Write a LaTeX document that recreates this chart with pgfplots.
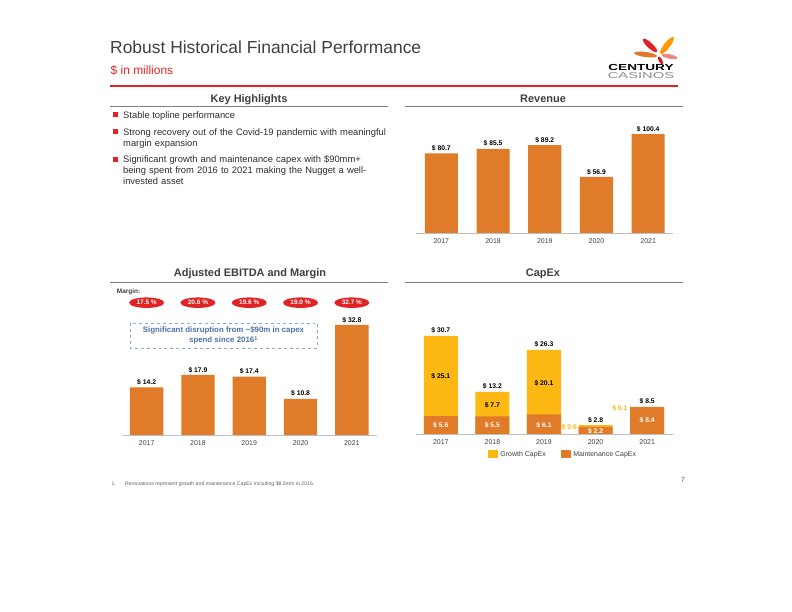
\documentclass[border=0pt]{standalone}
\usepackage{fontspec}
\setmainfont{Liberation Sans}
\usepackage{graphicx}
\usepackage{pgfplots}
\pgfplotsset{compat=1.18}
\usetikzlibrary{shapes.geometric}
\definecolor{barorange}{RGB}{224,123,41}
\definecolor{baryellow}{RGB}{253,184,19}
\definecolor{redc}{RGB}{226,35,38}
\definecolor{titlegray}{RGB}{64,64,64}
\definecolor{boxblue}{RGB}{79,113,168}
\definecolor{boxline}{RGB}{143,170,210}
\definecolor{axgray}{RGB}{191,191,191}
\definecolor{ruleg}{RGB}{127,127,127}
\newcommand{\fs}[2]{\fontsize{#1}{#2}\selectfont}
\newcommand{\vlab}{\$ \pgfmathprintnumber[fixed,fixed zerofill,precision=1]{\pgfplotspointmeta}}
\pgfplotsset{
  slidebar/.style={
    scale only axis, ymin=0, axis y line=none, axis x line*=bottom,
    x axis line style={axgray, line width=0.8pt},
    xtick={0,1,2,3,4}, xticklabels={2017,2018,2019,2020,2021},
    major tick length=0pt,
    xticklabel style={font=\fs{7}{8}, text=titlegray, yshift=-2.5bp},
    /pgf/number format/assume math mode=true,
    clip=false,
    anchor=south west,
  },
  barlab/.style={every node near coord/.append style={font=\bfseries\fs{6.8}{8}, text=black, inner sep=2.2bp}},
}
\begin{document}
\begin{tikzpicture}[x=1bp,y=1bp]
\useasboundingbox (0,0) rectangle (792,612);
\fill[white] (0,0) rectangle (792,612);
% ---- title
\node[anchor=base west, inner sep=0pt, text=titlegray, font=\fs{17.5}{20}] at (110,558.7) {Robust Historical Financial Performance};
\node[anchor=base west, inner sep=0pt, text=redc, font=\fs{12}{14}] at (110.5,537) {\$ in millions};
\draw[redc, line width=1.5pt] (110,526) -- (678,526);
% ---- logo
\fill[redc] (650,566.5) ellipse [x radius=9.5, y radius=2.8, rotate=-43];
\fill[orange!80!yellow] (667,566.5) ellipse [x radius=10.5, y radius=3, rotate=52];
\fill[barorange] (645.5,557.5) ellipse [x radius=11.5, y radius=2.6, rotate=-8];
\fill[redc!55!white] (669.5,555.5) ellipse [x radius=8, y radius=2.2, rotate=-12];
\fill[redc!90!black] (660.5,551.5) ellipse [x radius=4.3, y radius=1.8, rotate=-60];
\node[anchor=base, inner sep=0pt, font=\bfseries\fs{8.8}{10}] at (641,541.8) {\scalebox{1.55}[1]{CENTURY}};
\node[anchor=base, inner sep=0pt, text=black!45, font=\fs{8.6}{10}] at (641,533.4) {\scalebox{1.72}[1]{CASINOS}};
% ---- headers
\node[anchor=base, inner sep=0pt, text=titlegray, font=\bfseries\fs{11}{13}] at (249,509.3) {Key Highlights};
\draw[ruleg, line width=0.8pt] (110,505.3) -- (388,505.3);
\node[anchor=base, inner sep=0pt, text=titlegray, font=\bfseries\fs{11}{13}] at (543,509.3) {Revenue};
\draw[ruleg, line width=0.8pt] (405,505.3) -- (683,505.3);
\node[anchor=base, inner sep=0pt, text=titlegray, font=\bfseries\fs{11}{13}] at (250,335.3) {Adjusted EBITDA and Margin};
\draw[ruleg, line width=0.8pt] (110,329.3) -- (388,329.3);
\node[anchor=base, inner sep=0pt, text=titlegray, font=\bfseries\fs{11}{13}] at (543,335.3) {CapEx};
\draw[ruleg, line width=0.8pt] (405,329.3) -- (683,329.3);
% ---- bullets
\fill[redc] (112.5,494.5) rectangle (117.5,499.5);
\fill[redc] (112.5,478) rectangle (117.5,483);
\fill[redc] (112.5,449.5) rectangle (117.5,454.5);
\node[anchor=base west, inner sep=0pt, text=titlegray!70!black, font=\fs{9.4}{10.8}] at (123,493) {Stable topline performance};
\node[anchor=base west, inner sep=0pt, text width=266bp, align=left, text=titlegray!70!black, font=\fs{9.4}{10.8}] at (123,476.5) {Strong recovery out of the Covid-19 pandemic with meaningful\\margin expansion};
\node[anchor=base west, inner sep=0pt, text width=266bp, align=left, text=titlegray!70!black, font=\fs{9.4}{10.8}] at (123,449) {Significant growth and maintenance capex with \$90mm+\\being spent from 2016 to 2021 making the Nugget a well-\\invested asset};
% ---- revenue
\begin{axis}[slidebar, at={(416bp,379bp)}, width=257bp, height=115bp, xmin=-0.49, xmax=4.48, ymax=116.75]
\addplot[ybar, bar width=0.64, bar shift=0pt, fill=barorange, draw=none, nodes near coords=\vlab, barlab]
  coordinates {(0,80.7) (1,85.5) (2,89.2) (3,56.9) (4,100.4)};
\end{axis}
% ---- EBITDA
\node[anchor=west, inner sep=0pt, font=\bfseries\fs{6.5}{7}, text=titlegray] at (116.7,320.3) {Margin:};
\draw[boxline, dashed, line width=0.8pt] (130,289) rectangle (317,263.7);
\node[align=center, inner sep=0pt, text=boxblue, font=\bfseries\fs{7.9}{10}] at (223.5,276.2) {Significant disruption from \textasciitilde\$90m in capex\\spend since 2016\textsuperscript{1}};
\begin{axis}[slidebar, at={(122bp,177bp)}, width=255bp, height=120bp, xmin=-0.48, xmax=4.49, ymax=35.78]
\addplot[ybar, bar width=0.65, bar shift=0pt, fill=barorange, draw=none, nodes near coords=\vlab, barlab]
  coordinates {(0,14.2) (1,17.9) (2,17.4) (3,10.8) (4,32.8)};
\addplot[draw=none, mark=none, point meta=explicit symbolic, nodes near coords,
  every node near coord/.style={ellipse, fill=redc, text=white, font=\bfseries\fs{6.5}{7}, minimum width=35bp, minimum height=10.5bp, inner sep=0pt, anchor=center}]
  coordinates {(0,39.45)[17.5 \%] (1,39.45)[20.6 \%] (2,39.45)[19.6 \%] (3,39.45)[19.0 \%] (4,39.45)[32.7 \%]};
\end{axis}
% ---- CapEx
\begin{axis}[slidebar, at={(416bp,178bp)}, width=257bp, height=115bp, xmin=-0.48, xmax=4.5, ymax=35.94,
  legend columns=2,
  legend style={draw=none, fill=none, at={(0.572,-0.177)}, anchor=center, font=\fs{7}{8}, text=titlegray,
    /tikz/every even column/.append style={column sep=13bp}},
  legend image code/.code={\fill[#1] (0bp,-4bp) rectangle (10.5bp,4bp);}]
\addplot[ybar, bar width=0.66, bar shift=0pt, fill=baryellow, draw=none, nodes near coords=\vlab, barlab]
  coordinates {(0,30.7) (1,13.2) (2,26.3) (3,2.8) (4,8.5)};
\addlegendentry{Growth CapEx}
\addplot[ybar, bar width=0.66, bar shift=0pt, fill=barorange, draw=none]
  coordinates {(0,5.6) (1,5.5) (2,6.1) (3,2.2) (4,8.4)};
\addlegendentry{Maintenance CapEx}
\addplot[draw=none, mark=none, point meta=explicit, nodes near coords=\vlab, forget plot,
  every node near coord/.style={anchor=center, font=\bfseries\fs{6.8}{8}, text=white}]
  coordinates {(0,2.6)[5.6] (1,2.6)[5.5] (2,2.8)[6.1] (3,0.9)[2.2] (4,4.2)[8.4]};
\addplot[draw=none, mark=none, point meta=explicit, nodes near coords=\vlab, forget plot,
  every node near coord/.style={anchor=center, font=\bfseries\fs{6.8}{8}, text=black}]
  coordinates {(0,17.9)[25.1] (1,8.9)[7.7] (2,16.0)[20.1]};
\addplot[draw=none, mark=none, point meta=explicit, nodes near coords=\vlab, forget plot,
  every node near coord/.style={anchor=center, font=\bfseries\fs{6.8}{8}, text=baryellow}]
  coordinates {(2.49,2.0)[0.6] (3.47,8.2)[0.1]};
\end{axis}
% ---- footnote
\node[anchor=base west, inner sep=0pt, text=black!60, font=\fs{5.2}{6}] at (111.5,126) {1.};
\node[anchor=base west, inner sep=0pt, text=black!60, font=\fs{5.2}{6}] at (125,126) {Renovations represent growth and maintenance CapEx including \$8.5mm in 2016.};
\node[anchor=base, inner sep=0pt, text=black!60, font=\fs{7.5}{8}] at (683,129) {7};
\end{tikzpicture}
\end{document}
